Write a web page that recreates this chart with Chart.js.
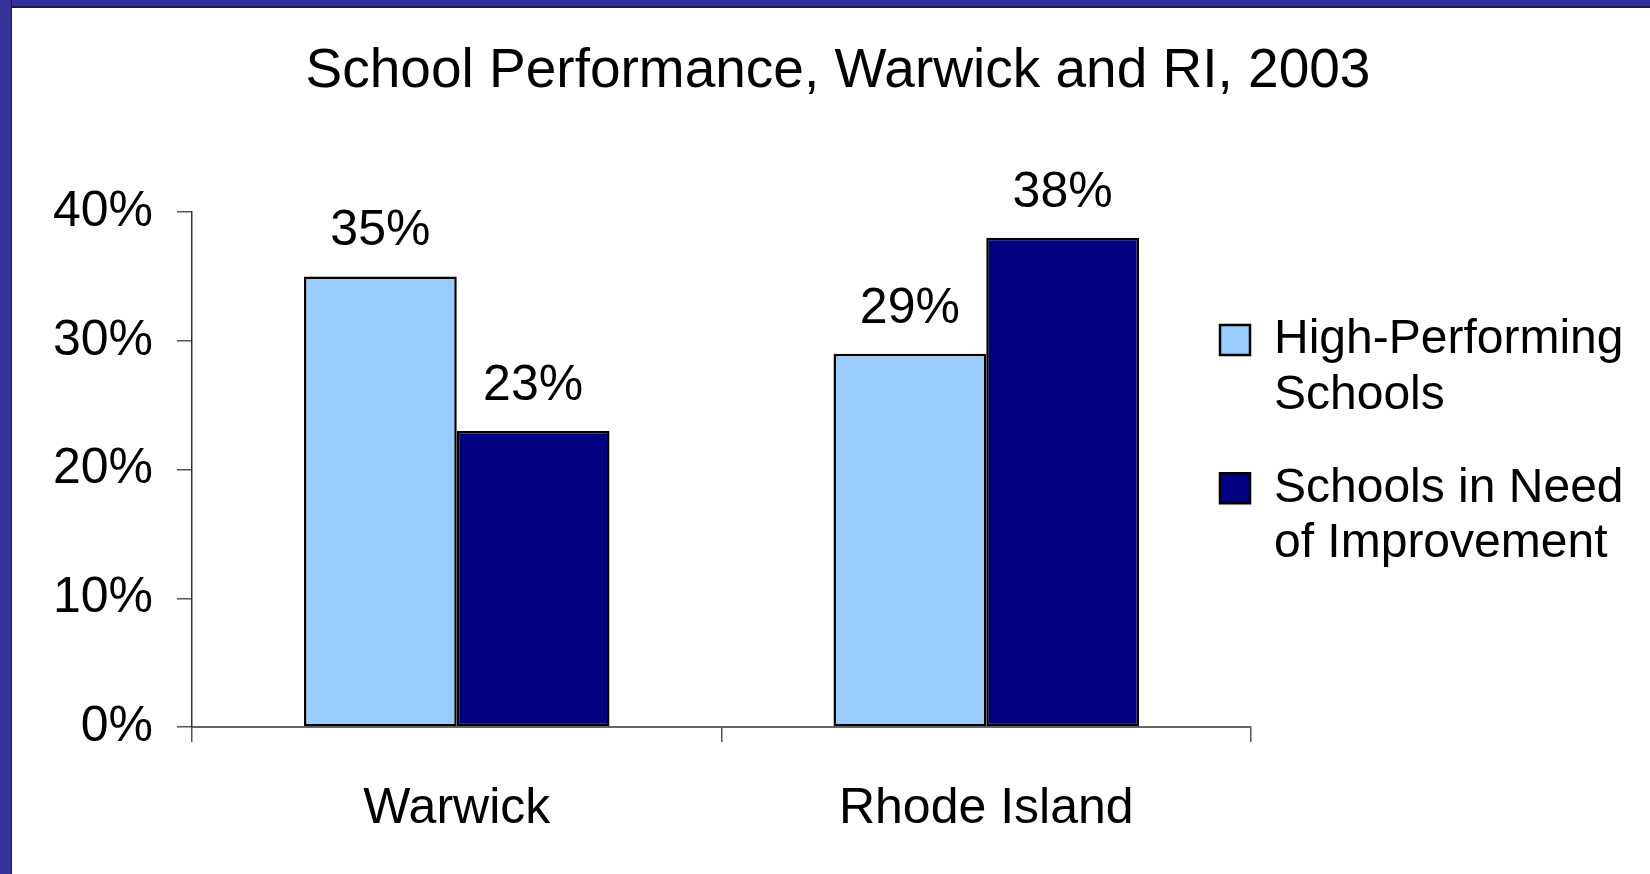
<!DOCTYPE html>
<html>
<head>
<meta charset="utf-8">
<title>School Performance, Warwick and RI, 2003</title>
<script src="https://cdn.jsdelivr.net/npm/chart.js@4.4.1/dist/chart.umd.min.js"></script>
<style>
    html, body { margin: 0; padding: 0; background: #fff; }
    #wrap { position: relative; width: 1650px; height: 874px; overflow: hidden; background: #fff; }
    #chart { position: absolute; left: 0; top: 0; }
    #frame-top { position: absolute; left: 0; top: 0; width: 1650px; height: 6px; background: #333399; border-bottom: 2px solid #1c1c55; }
    #frame-left { position: absolute; left: 0; top: 0; width: 11px; height: 874px; background: #333399; border-right: 1px solid #1c1c55; }
</style>
</head>
<body>
<div id="wrap">
    <canvas id="chart" width="1650" height="874"></canvas>
    <div id="frame-top"></div>
    <div id="frame-left"></div>
</div>
<script>
"use strict";

// chart data
const chartTitle = "School Performance, Warwick and RI, 2003";
const categories = ["Warwick", "Rhode Island"];
const highPerforming = [35, 29];
const needImprovement = [23, 38];
const seriesNames = [["High-Performing", "Schools"], ["Schools in Need", "of Improvement"]];
const yMin = 0;
const yMax = 40;
const yStep = 10;

(() => {

    const fontFamily = '"Liberation Sans", Arial, sans-serif';
    Chart.defaults.font.family = fontFamily;
    Chart.defaults.color = "#000";

    // value labels above each bar, placed from the bar elements
    const barValueLabels = {
        id: "barValueLabels",
        afterLayout(chart) {
            // pull the legend a bit closer to the plot, like the original
            let legend = chart.legend;
            legend.left = chart.chartArea.right - 68;
            legend.right = legend.left + 440;
            legend.top = 279;
            legend.bottom = legend.top + 420;
        },
        afterDatasetsDraw(chart) {
            let ctx = chart.ctx;
            ctx.save();
            ctx.font = "50px " + fontFamily;
            ctx.fillStyle = "#000";
            ctx.textAlign = "center";
            ctx.textBaseline = "alphabetic";
            chart.data.datasets.forEach((dataset, i) => {
                chart.getDatasetMeta(i).data.forEach((bar, j) => {
                    ctx.fillText(dataset.data[j] + "%", bar.x, bar.y - 31);
                });
            });
            ctx.restore();
        }
    };

    const ctx = document.getElementById("chart");

    new Chart(ctx, {
        type: "bar",
        data: {
            labels: categories,
            datasets: [
                {
                    label: seriesNames[0],
                    data: highPerforming,
                    backgroundColor: "#99CCFF",
                    borderColor: "#000",
                    borderWidth: 2.5,
                    borderSkipped: false,
                    categoryPercentage: 0.577,
                    barPercentage: 1
                },
                {
                    label: seriesNames[1],
                    data: needImprovement,
                    backgroundColor: "#000080",
                    borderColor: "#000",
                    borderWidth: 2.5,
                    borderSkipped: false,
                    categoryPercentage: 0.577,
                    barPercentage: 1
                }
            ]
        },
        options: {
            responsive: false,
            animation: false,
            devicePixelRatio: 1,
            layout: {
                padding: { top: 8, left: 26, right: 0, bottom: 35 }
            },
            plugins: {
                title: {
                    display: true,
                    text: chartTitle,
                    color: "#000",
                    font: { size: 55, weight: "normal" },
                    padding: { top: 31, bottom: 107 }
                },
                legend: {
                    position: "right",
                    align: "start",
                    maxWidth: 399,
                    labels: {
                        boxWidth: 30,
                        boxHeight: 30,
                        padding: 37,
                        color: "#000",
                        font: { size: 48, lineHeight: 1.16 }
                    }
                },
                tooltip: { enabled: false }
            },
            scales: {
                x: {
                    ticks: {
                        color: "#000",
                        font: { size: 50 },
                        padding: 37
                    },
                    grid: {
                        offset: true,
                        drawOnChartArea: false,
                        tickLength: 15,
                        color: "#555",
                        lineWidth: 1.5
                    },
                    border: { display: true, color: "#666", width: 2 },
                    afterFit(scale) {
                        // tick mark + padding + one label line
                        scale.height = 112;
                    }
                },
                y: {
                    min: yMin,
                    max: yMax,
                    ticks: {
                        stepSize: yStep,
                        color: "#000",
                        font: { size: 50 },
                        padding: 24,
                        callback: (value) => value + "%"
                    },
                    grid: {
                        drawOnChartArea: false,
                        tickLength: 15,
                        color: "#555",
                        lineWidth: 1.5
                    },
                    border: { display: true, color: "#333", width: 1.5 },
                    afterFit(scale) {
                        scale.width = 166;
                    }
                }
            }
        },
        plugins: [barValueLabels]
    });

})();
</script>
</body>
</html>
